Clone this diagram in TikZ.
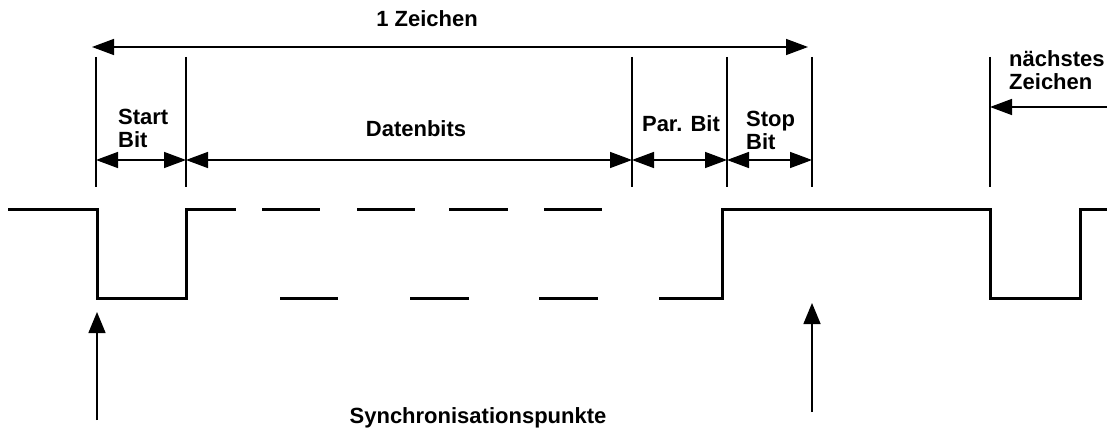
\documentclass[tikz,border=0pt]{standalone}
\usepackage{fontspec}
\setmainfont{Liberation Sans}
\usetikzlibrary{arrows.meta}
\begin{document}
\begin{tikzpicture}[x=1pt,y=-1pt,
  thin line/.style={line width=1.5pt},
  sig/.style={line width=3pt,line cap=butt,line join=miter},
  dim/.style={thin line,{Triangle[length=22pt,width=16pt]}-{Triangle[length=22pt,width=16pt]}},
  onehead/.style={thin line,-{Triangle[length=22pt,width=16pt]}},
  lbl/.style={font=\fontsize{22}{23}\selectfont\bfseries,inner sep=0pt,anchor=base west},
  clbl/.style={font=\fontsize{22}{23}\selectfont\bfseries,inner sep=0pt,anchor=base}]
\useasboundingbox (0,0) rectangle (1107,430);
% divider coordinates
\coordinate (d1t) at (96,57);  \coordinate (d1b) at (96,187);
\coordinate (d2t) at (186,57); \coordinate (d2b) at (186,187);
\coordinate (d3t) at (632,57); \coordinate (d3b) at (632,187);
\coordinate (d4t) at (727,57); \coordinate (d4b) at (727,187);
\coordinate (d5t) at (812,57); \coordinate (d5b) at (812,187);
\coordinate (d6t) at (990,57); \coordinate (d6b) at (990,187);
\foreach \i in {1,...,6} \draw[thin line] (d\i t) -- (d\i b);
% 1 Zeichen
\coordinate (zl) at (92,47); \coordinate (zr) at (808,47);
\draw[dim] (zl) -- (zr);
\node[clbl] (zeichen) at (427,27) {1 Zeichen};
% sub dimensions
\coordinate (s1) at (96,160); \coordinate (s2) at (186,160);
\coordinate (s3) at (632,160); \coordinate (s4) at (727,160);
\coordinate (s5) at (812,160);
\draw[dim] (s1) -- (s2);
\draw[dim] (s2) -- (s3);
\draw[dim] (s3) -- (s4);
\draw[dim] (s4) -- (s5);
\node[lbl] (start) at (118,125) {Start};
\node[lbl] (startbit) at (118,148) {Bit};
\node[clbl] (daten) at (416,137) {Datenbits};
\node[clbl] (par) at (681,132) {Par. Bit};
\node[lbl] (stop) at (746,127) {Stop};
\node[lbl] (stopbit) at (746,150) {Bit};
% naechstes Zeichen
\coordinate (nr) at (1107,107); \coordinate (nl) at (990,107);
\draw[onehead] (nr) -- (nl);
\node[lbl] (naechst) at (1009,67) {nächstes};
\node[lbl] (nzeichen) at (1009,90) {Zeichen};
% signal
\draw[sig] (8,210) -- (97,210) -- (97,298) -- (186,298) -- (186,210) -- (236,210);
\foreach \a/\b in {262/320,357/415,449/508,544/602} \draw[sig] (\a,210) -- (\b,210);
\foreach \a/\b in {280/338,410/469,539/598} \draw[sig] (\a,298) -- (\b,298);
\draw[sig] (659,298) -- (722,298) -- (722,210) -- (990,210) -- (990,298) -- (1080,298) -- (1080,210) -- (1107,210);
% synchronisation points
\coordinate (sy1b) at (97,420); \coordinate (sy1t) at (97,312);
\coordinate (sy2b) at (812,412); \coordinate (sy2t) at (812,303);
\draw[thin line,-{Triangle[length=21pt,width=17pt]}] (sy1b) -- (sy1t);
\draw[thin line,-{Triangle[length=21pt,width=17pt]}] (sy2b) -- (sy2t);
\node[clbl] (sync) at (478,423) {Synchronisationspunkte};
\end{tikzpicture}
\end{document}
